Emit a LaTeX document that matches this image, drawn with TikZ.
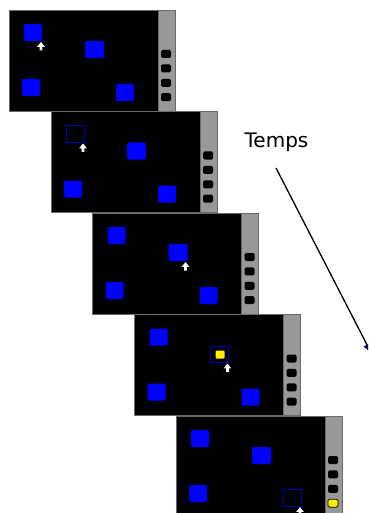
\documentclass[tikz,border=0pt]{standalone}
\usepackage{fontspec}
\setmainfont{DejaVu Sans}
\usetikzlibrary{arrows.meta}

\definecolor{sidegray}{RGB}{152,152,152}
\definecolor{edgegray}{RGB}{105,105,105}
\definecolor{targetblue}{RGB}{0,0,255}
\definecolor{selnavy}{RGB}{0,0,185}
\definecolor{hilite}{RGB}{255,240,0}
\definecolor{tipnavy}{RGB}{10,10,70}

\tikzset{
  screen/.style={fill=black, draw=edgegray, line width=0.5pt},
  sidebar/.style={fill=sidegray, draw=edgegray, line width=0.8pt},
  target/.style={fill=targetblue, rounded corners=2pt},
  chosen/.style={draw=selnavy, line width=1pt},
  slot/.style={fill=black, rounded corners=1.5pt},
  slotlit/.style={fill=hilite, draw=black, line width=0.7pt, rounded corners=1.5pt},
  pointer/.style={fill=white},
  timearrow/.style={line width=1.3pt, -{Latex[length=11pt,width=8pt,color=tipnavy]}},
  % screen frame with side bar and four empty slots
  pics/frame/.style={code={
    \fill[screen] (0,0) rectangle (149,101);
    \fill[sidebar] (149,0) rectangle (166,101);
    \foreach \k in {0,1,2,3}
      \fill[slot] (152,40+14.4*\k) rectangle ++(10,8);
  }},
  % white up-pointing mouse cursor, tip at the origin
  pics/cursor/.style={code={
    \fill[pointer] (0,0) -- (3.8,4.8) -- (1.4,4.8) -- (1.4,8.5) -- (-1.4,8.5)
      -- (-1.4,4.8) -- (-3.8,4.8) -- cycle;
  }},
}

\begin{document}
\begin{tikzpicture}[x=1pt,y=-1pt]
\useasboundingbox (0,0) rectangle (368,513);
\clip (0,0) rectangle (368,513);

% --- screen 1: cursor beside the first target
\begin{scope}[shift={(9,10)}]
  \pic {frame};
  \fill[target] (15,14) rectangle (33,31);
  \fill[target] (76,31) rectangle (95,48);
  \fill[target] (13,69) rectangle (31,86);
  \fill[target] (107,74) rectangle (125,91);
  \pic at (32,32) {cursor};
\end{scope}

% --- screen 2: first target removed, outline left behind
\begin{scope}[shift={(51,111.5)}]
  \pic {frame};
  \draw[chosen] (15,14) rectangle (33,31);
  \fill[target] (76,31) rectangle (95,48);
  \fill[target] (13,69) rectangle (31,86);
  \fill[target] (107,74) rectangle (125,91);
  \pic at (32,32) {cursor};
\end{scope}

% --- screen 3: cursor moved to the second target
\begin{scope}[shift={(92.5,213)}]
  \pic {frame};
  \fill[target] (15,14) rectangle (33,31);
  \fill[target] (76,31) rectangle (95,48);
  \fill[target] (13,69) rectangle (31,86);
  \fill[target] (107,74) rectangle (125,91);
  \pic at (93,49) {cursor};
\end{scope}

% --- screen 4: second target selected, yellow item inside
\begin{scope}[shift={(134.5,314.5)}]
  \pic {frame};
  \fill[target] (15,14) rectangle (33,31);
  \draw[chosen] (76,32) rectangle (94,48);
  \fill[hilite, rounded corners=1pt] (81,36) rectangle (90,44);
  \fill[target] (13,69) rectangle (31,86);
  \fill[target] (107,74) rectangle (125,91);
  \pic at (93,49) {cursor};
\end{scope}

% --- screen 5: item stored in the side bar, fourth target emptied
\begin{scope}[shift={(176,416)}]
  \pic {frame};
  \fill[target] (15,14) rectangle (33,31);
  \fill[target] (76,31) rectangle (95,48);
  \fill[target] (13,69) rectangle (31,86);
  \draw[chosen] (107,73) rectangle (125,90);
  \fill[slotlit] (152,83.2) rectangle ++(10,8);
  \pic at (124,91) {cursor};
\end{scope}

% --- time axis
\node[font=\fontsize{20}{24}\selectfont, inner sep=0pt] (temps) at (276.5,142) {Temps};
\coordinate (tstart) at (276,168);
\coordinate (tend) at (372,354.5);
\draw[timearrow] (tstart) -- (tend);
\end{tikzpicture}
\end{document}
